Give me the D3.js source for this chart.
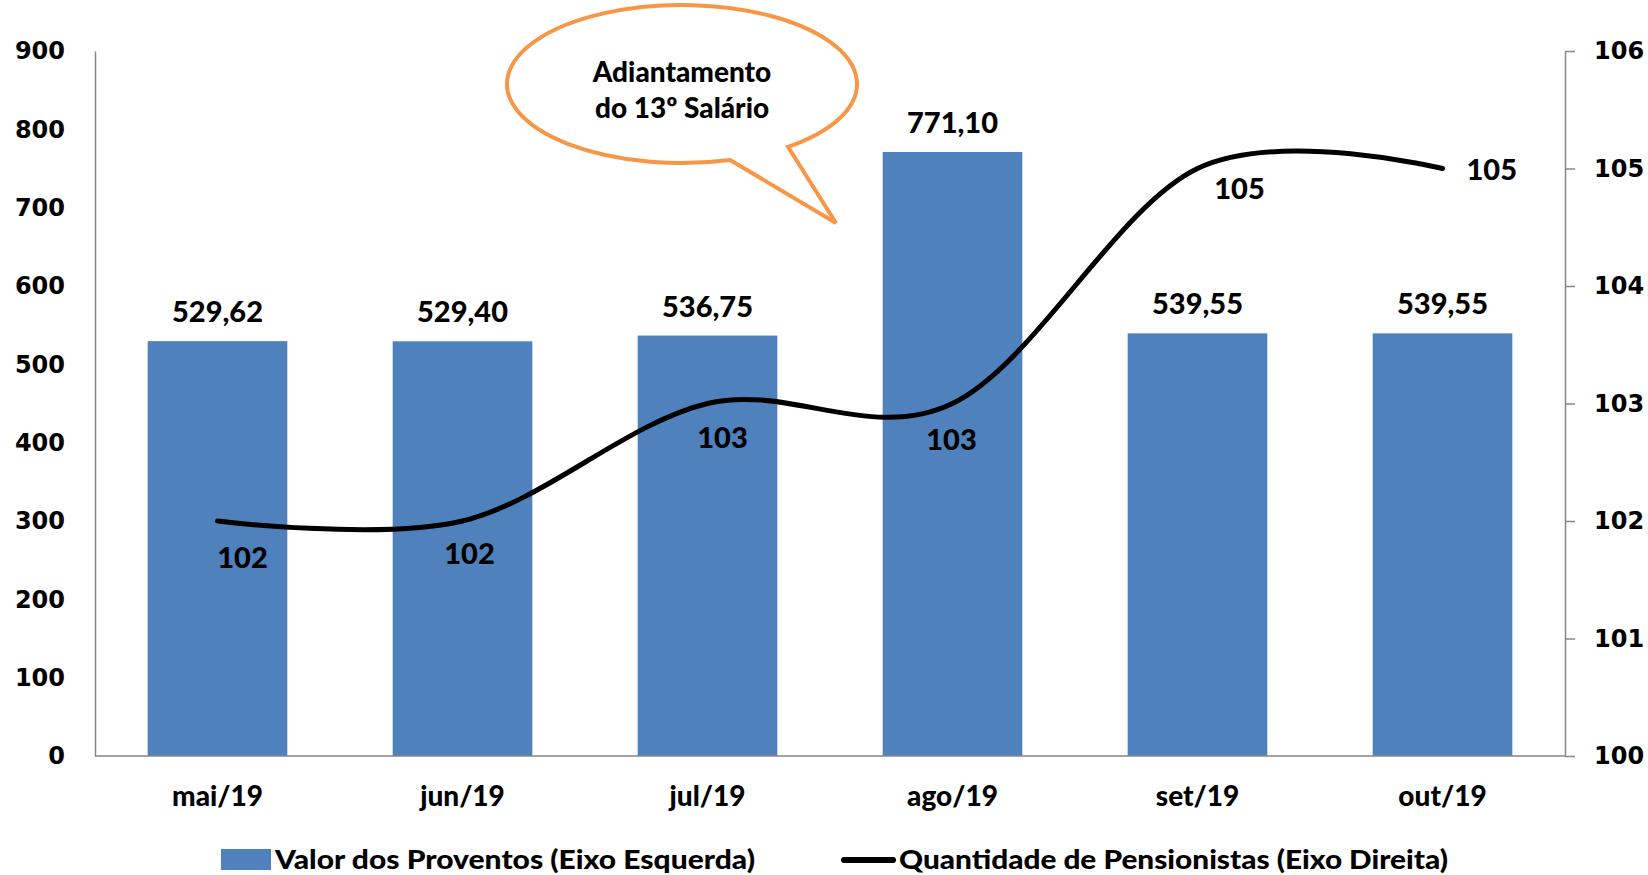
<!DOCTYPE html>
<meta charset="utf-8">
<style>
body { margin: 0; background: #fff; }
svg text { font-family: Lato, "Open Sans", sans-serif; font-weight: 900; fill: #000; }
.axis text { font-family: "DejaVu Sans", Verdana, sans-serif; font-weight: bold; font-size: 24px; }
.axis path, .axis line { stroke: #868686; stroke-width: 1.5; }
</style>
<svg width="1648" height="875"></svg>
<script src="https://d3js.org/d3.v7.min.js"></script>
<script>

var months = ["mai/19", "jun/19", "jul/19", "ago/19", "set/19", "out/19"]
var proventos = [529.62, 529.40, 536.75, 771.10, 539.55, 539.55]
var pensionistas = [102, 102, 103, 103, 105, 105]
var leftTicks = [0, 100, 200, 300, 400, 500, 600, 700, 800, 900]
var rightTicks = [100, 101, 102, 103, 104, 105, 106]
var legendNames = ["Valor dos Proventos (Eixo Esquerda)", "Quantidade de Pensionistas (Eixo Direita)"]

// where the line labels sit relative to each point (dx, dy, anchor)
var lineLabelPos = [[25, 47, "middle"], [7, 43, "middle"], [15, 44, "middle"],
                    [-1, 46, "middle"], [42, 30, "middle"], [24, 11, "start"]]

var svg = d3.select("svg")
var plotLeft = 95, plotRight = 1565, plotTop = 51, plotBottom = 756

var x = d3.scaleBand().domain(months).range([plotLeft, plotRight])
          .paddingInner(0.43).paddingOuter(0.215)
var yL = d3.scaleLinear().domain([0, 900]).range([plotBottom, plotTop])
var yR = d3.scaleLinear().domain([100, 106]).range([plotBottom, plotTop])

// bars
svg.selectAll("rect.bar")
   .data(proventos)
   .enter().append("rect")
   .attr("class", "bar")
   .attr("x", function(d, i) { return x(months[i]) })
   .attr("width", x.bandwidth())
   .attr("y", function(d) { return yL(d) })
   .attr("height", function(d) { return plotBottom - yL(d) })
   .style("fill", "#4F81BD")

// axes
svg.append("g")
   .attr("class", "axis")
   .attr("transform", "translate(" + plotLeft + ",0)")
   .call(d3.axisLeft(yL).tickValues(leftTicks).tickFormat(d3.format("d"))
           .tickSize(0).tickPadding(30).tickSizeOuter(0))
   .call(function(g) { g.selectAll("line").remove() })

svg.append("g")
   .attr("class", "axis")
   .attr("transform", "translate(" + plotRight + ",0)")
   .call(d3.axisRight(yR).tickValues(rightTicks).tickFormat(d3.format("d"))
           .tickSize(10).tickPadding(19).tickSizeOuter(0))

svg.append("g")
   .attr("class", "axis xaxis")
   .attr("transform", "translate(0," + plotBottom + ")")
   .call(d3.axisBottom(x).tickSize(0).tickSizeOuter(0).tickPadding(30))
   .call(function(g) {
     g.select(".domain").attr("d", "M" + plotLeft + ",0H" + plotRight)
     g.selectAll("text").style("font-family", "Lato, sans-serif")
      .style("font-weight", 900).style("font-size", "28px")
   })

// bar labels
svg.selectAll("text.barlabel")
   .data(proventos)
   .enter().append("text")
   .attr("class", "barlabel")
   .attr("x", function(d, i) { return x(months[i]) + x.bandwidth() / 2 })
   .attr("y", function(d) { return yL(d) - 19 })
   .attr("text-anchor", "middle")
   .style("font-size", "29px")
   .text(function(d) { return d3.format(".2f")(d).replace(".", ",") })

// line
var cx = function(i) { return x(months[i]) + x.bandwidth() / 2 }
var line = d3.line()
   .x(function(d, i) { return cx(i) })
   .y(function(d) { return yR(d) })
   .curve(d3.curveCardinal.tension(0))

svg.append("path")
   .datum(pensionistas)
   .attr("d", line)
   .style("fill", "none")
   .style("stroke", "#000")
   .style("stroke-width", 5)
   .style("stroke-linecap", "round")

svg.selectAll("text.linelabel")
   .data(pensionistas)
   .enter().append("text")
   .attr("class", "linelabel")
   .attr("x", function(d, i) { return cx(i) + lineLabelPos[i][0] })
   .attr("y", function(d, i) { return yR(d) + lineLabelPos[i][1] })
   .attr("text-anchor", function(d, i) { return lineLabelPos[i][2] })
   .style("font-size", "29px")
   .text(function(d) { return d })

// callout bubble
var bubble = svg.append("g")
var rx = 175, ry = 79, bx = 682, by = 84
var a1 = Math.acos((730 - bx) / rx), a2 = Math.acos((788 - bx) / rx)
var p1 = [bx + rx * Math.cos(a1), by + ry * Math.sin(a1)]
var p2 = [bx + rx * Math.cos(a2), by + ry * Math.sin(a2)]
bubble.append("path")
   .attr("d", "M" + p1 + "L836,223L" + p2 +
              "A" + rx + "," + ry + " 0 1 0 " + p1 + "Z")
   .style("fill", "#fff")
   .style("stroke", "#F79646")
   .style("stroke-width", 4)
   .style("stroke-linejoin", "miter")

bubble.selectAll("text")
   .data(["Adiantamento", "do 13º Salário"])
   .enter().append("text")
   .attr("x", bx)
   .attr("y", function(d, i) { return 82 + i * 36 })
   .attr("text-anchor", "middle")
   .style("font-size", "28px")
   .text(function(d) { return d })

// legend
var legend = svg.append("g")
legend.append("rect")
   .attr("x", 221).attr("y", 849).attr("width", 50).attr("height", 21)
   .style("fill", "#4F81BD")
legend.append("text")
   .attr("x", 275).attr("y", 869)
   .attr("textLength", 480).attr("lengthAdjust", "spacingAndGlyphs")
   .style("font-size", "27px")
   .text(legendNames[0])
legend.append("line")
   .attr("x1", 844).attr("x2", 893).attr("y1", 860).attr("y2", 860)
   .style("stroke", "#000").style("stroke-width", 6).style("stroke-linecap", "round")
legend.append("text")
   .attr("x", 899).attr("y", 869)
   .attr("textLength", 549).attr("lengthAdjust", "spacingAndGlyphs")
   .style("font-size", "27px")
   .text(legendNames[1])

</script>
</html>
